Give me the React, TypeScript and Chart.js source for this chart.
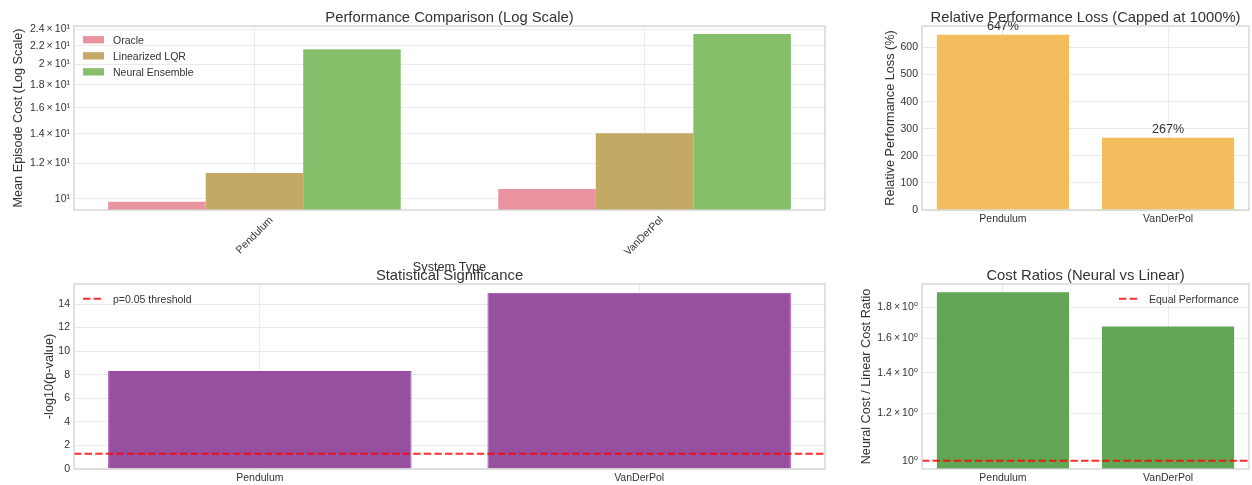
import React, { useEffect, useRef } from "react";
import { Chart, registerables } from "chart.js";

Chart.register(...registerables);

// ---------------- data ----------------
const systems = ["Pendulum", "VanDerPol"];
const oracleCost = [9.86, 10.53];
const lqrCost = [11.43, 14.03];
const neuralCost = [21.63, 23.39];
const costTicks = [10, 12, 14, 16, 18, 20, 22, 24];
const costTickLabels = ["10¹", "1.2\u2009×\u200910¹", "1.4\u2009×\u200910¹", "1.6\u2009×\u200910¹", "1.8\u2009×\u200910¹", "2\u2009×\u200910¹", "2.2\u2009×\u200910¹", "2.4\u2009×\u200910¹"];

const perfLossPct = [647, 267];
const lossTicks = [0, 100, 200, 300, 400, 500, 600];

const negLog10P = [8.31, 14.95];
const pThreshold = 1.301;
const sigTicks = [0, 2, 4, 6, 8, 10, 12, 14];

const costRatio = [1.906, 1.673];
const equalRatio = 1;
const ratioTicks = [1.0, 1.2, 1.4, 1.6, 1.8];
const ratioTickLabels = ["10⁰", "1.2\u2009×\u200910⁰", "1.4\u2009×\u200910⁰", "1.6\u2009×\u200910⁰", "1.8\u2009×\u200910⁰"];

// ---------------- style / layout ----------------
const W = 1252;
const H = 485;
const FONT = '"Liberation Sans", Arial, "DejaVu Sans", sans-serif';
const TEXT = "#333333";
const GRID = "#ebebeb";
const FRAME = "#d2d2d2";
const RED = "rgba(255,0,0,0.82)";
const DASH = [7.4, 3.2];
const C = {
  oracle: "#e8939f",
  lqr: "#c3a866",
  neural: "#86bf6a",
  orange: "#f3bd5d",
  purple: "#974f9f",
  purpleEdge: "#a443b3",
  green: "#62a555",
};
const TITLE_SIZE = 14.8;
const LABEL_SIZE = 12.7;
const TICK_SIZE = 10.5;

type Area = { L: number; T: number; R: number; B: number };
const A_TL: Area = { L: 74, T: 26, R: 825, B: 210 };
const A_TR: Area = { L: 922, T: 26, R: 1249, B: 210 };
const A_BL: Area = { L: 74, T: 284, R: 825, B: 469 };
const A_BR: Area = { L: 922, T: 284, R: 1249, B: 469 };

// ---------------- helpers ----------------
function text(ctx: CanvasRenderingContext2D, s: string, x: number, y: number, size: number, align: CanvasTextAlign = "center", rot = 0) {
  ctx.save();
  ctx.translate(x, y);
  if (rot) ctx.rotate(rot);
  ctx.font = `${size}px ${FONT}`;
  ctx.fillStyle = TEXT;
  ctx.textAlign = align;
  ctx.textBaseline = "alphabetic";
  ctx.fillText(s, 0, 0);
  ctx.restore();
}

function frame(ctx: CanvasRenderingContext2D, a: Area) {
  ctx.save();
  ctx.strokeStyle = FRAME;
  ctx.lineWidth = 1.3;
  ctx.strokeRect(a.L, a.T, a.R - a.L, a.B - a.T);
  ctx.restore();
}

function legendBox(ctx: CanvasRenderingContext2D, x: number, yc: number, color: string, label: string) {
  ctx.save();
  ctx.fillStyle = color;
  ctx.fillRect(x, yc - 3.6, 21, 7.3);
  ctx.restore();
  text(ctx, label, x + 30, yc + 3.8, TICK_SIZE, "left");
}

function legendDash(ctx: CanvasRenderingContext2D, x: number, yc: number, label: string) {
  ctx.save();
  ctx.strokeStyle = RED;
  ctx.lineWidth = 2;
  ctx.setLineDash(DASH);
  ctx.beginPath();
  ctx.moveTo(x, yc);
  ctx.lineTo(x + 21, yc);
  ctx.stroke();
  ctx.restore();
  text(ctx, label, x + 30, yc + 3.8, TICK_SIZE, "left");
}

function deco(draw: (ctx: CanvasRenderingContext2D, chart: any) => void) {
  return {
    id: "deco",
    afterDraw(chart: any) {
      const ctx = chart.ctx as CanvasRenderingContext2D;
      ctx.save();
      draw(ctx, chart);
      ctx.restore();
    },
  };
}

const tickFont = { family: FONT, size: TICK_SIZE };

function xScale(a: Area, min: number, max: number, extra: any = {}) {
  return {
    type: "linear",
    min,
    max,
    offset: false,
    bounds: "data",
    afterBuildTicks: (s: any) => {
      s.ticks = systems.map((_, i) => ({ value: i }));
    },
    afterFit: (s: any) => {
      s.height = H - a.B;
      s.paddingLeft = 0;
      s.paddingRight = 0;
    },
    ticks: {
      callback: (_v: any, i: number) => systems[i],
      font: tickFont,
      color: TEXT,
      padding: 3,
      autoSkip: false,
      maxRotation: 0,
      minRotation: 0,
      ...extra,
    },
    grid: { color: GRID, drawTicks: false, lineWidth: 1, offset: false },
    border: { display: false },
  };
}

function yScale(a: Area, type: string, min: number, max: number, ticks: number[], labels: (string | number)[]) {
  return {
    type,
    min,
    max,
    bounds: "data",
    afterBuildTicks: (s: any) => {
      s.ticks = ticks.map((v) => ({ value: v }));
    },
    afterFit: (s: any) => {
      s.width = a.L;
      s.paddingTop = 0;
      s.paddingBottom = 0;
    },
    ticks: {
      callback: (_v: any, i: number) => String(labels[i]),
      font: tickFont,
      color: TEXT,
      padding: 4,
      autoSkip: false,
    },
    grid: { color: GRID, drawTicks: false, lineWidth: 1 },
    border: { display: false },
  };
}

function baseOptions(a: Area) {
  return {
    animation: false,
    responsive: false,
    devicePixelRatio: 1,
    events: [],
    layout: { autoPadding: false, padding: { left: 0, top: a.T, right: W - a.R, bottom: 0 } },
    plugins: { legend: { display: false }, title: { display: false }, tooltip: { enabled: false } },
  };
}

const pts = (vals: number[]) => vals.map((v, i) => ({ x: i, y: v }));

// ---------------- chart configs ----------------
function cfgTL(): any {
  return {
    type: "bar",
    data: {
      datasets: [
        { label: "Oracle", data: pts(oracleCost), backgroundColor: C.oracle, borderWidth: 0 },
        { label: "Linearized LQR", data: pts(lqrCost), backgroundColor: C.lqr, borderWidth: 0 },
        { label: "Neural Ensemble", data: pts(neuralCost), backgroundColor: C.neural, borderWidth: 0 },
      ],
    },
    options: {
      ...baseOptions(A_TL),
      datasets: { bar: { categoryPercentage: 0.75, barPercentage: 1 } },
      scales: {
        x: xScale(A_TL, -0.4625, 1.4625, { minRotation: 45, maxRotation: 45, labelOffset: 17, padding: 4 }),
        y: yScale(A_TL, "logarithmic", 9.449, 24.38, costTicks, costTickLabels),
      },
    },
    plugins: [
      deco((ctx) => {
        frame(ctx, A_TL);
        const cx = (A_TL.L + A_TL.R) / 2;
        text(ctx, "Performance Comparison (Log Scale)", cx, 21.5, TITLE_SIZE);
        text(ctx, "Mean Episode Cost (Log Scale)", 21.6, (A_TL.T + A_TL.B) / 2, LABEL_SIZE, "center", -Math.PI / 2);
        text(ctx, "System Type", cx, 271, LABEL_SIZE);
        legendBox(ctx, 83, 39.7, C.oracle, "Oracle");
        legendBox(ctx, 83, 55.8, C.lqr, "Linearized LQR");
        legendBox(ctx, 83, 71.8, C.neural, "Neural Ensemble");
      }),
    ],
  };
}

function cfgTR(): any {
  return {
    type: "bar",
    data: {
      datasets: [{ label: "loss", data: pts(perfLossPct), backgroundColor: C.orange, borderWidth: 0 }],
    },
    options: {
      ...baseOptions(A_TR),
      datasets: { bar: { categoryPercentage: 0.8, barPercentage: 1 } },
      scales: {
        x: xScale(A_TR, -0.49, 1.49),
        y: yScale(A_TR, "linear", 0, 679.35, lossTicks, lossTicks),
      },
    },
    plugins: [
      deco((ctx, chart) => {
        frame(ctx, A_TR);
        const cx = (A_TR.L + A_TR.R) / 2;
        const xs = chart.scales.x;
        const ys = chart.scales.y;
        perfLossPct.forEach((v, i) => {
          text(ctx, `${v}%`, xs.getPixelForValue(i), ys.getPixelForValue(v) - 4.5, 12.5);
        });
        text(ctx, "Relative Performance Loss (Capped at 1000%)", cx, 21.5, TITLE_SIZE);
        text(ctx, "Relative Performance Loss (%)", 893.6, (A_TR.T + A_TR.B) / 2, LABEL_SIZE, "center", -Math.PI / 2);
      }),
    ],
  };
}

function cfgBL(): any {
  return {
    type: "bar",
    data: {
      datasets: [
        {
          label: "sig",
          data: pts(negLog10P),
          backgroundColor: C.purple,
          borderColor: C.purpleEdge,
          borderWidth: 1,
          order: 2,
        },
        {
          type: "line",
          label: "p=0.05 threshold",
          data: [
            { x: -0.49, y: pThreshold },
            { x: 1.49, y: pThreshold },
          ],
          borderColor: RED,
          borderWidth: 2,
          borderDash: DASH,
          pointRadius: 0,
          fill: false,
          order: 1,
        },
      ],
    },
    options: {
      ...baseOptions(A_BL),
      datasets: { bar: { categoryPercentage: 0.8, barPercentage: 1 } },
      scales: {
        x: xScale(A_BL, -0.49, 1.49),
        y: yScale(A_BL, "linear", 0, 15.7, sigTicks, sigTicks),
      },
    },
    plugins: [
      deco((ctx) => {
        frame(ctx, A_BL);
        const cx = (A_BL.L + A_BL.R) / 2;
        text(ctx, "Statistical Significance", cx, 279.5, TITLE_SIZE);
        text(ctx, "-log10(p-value)", 52.6, (A_BL.T + A_BL.B) / 2, LABEL_SIZE, "center", -Math.PI / 2);
        legendDash(ctx, 83, 298.7, "p=0.05 threshold");
      }),
    ],
  };
}

function cfgBR(): any {
  return {
    type: "bar",
    data: {
      datasets: [
        { label: "ratio", data: pts(costRatio), backgroundColor: C.green, borderWidth: 0, order: 2 },
        {
          type: "line",
          label: "Equal Performance",
          data: [
            { x: -0.49, y: equalRatio },
            { x: 1.49, y: equalRatio },
          ],
          borderColor: RED,
          borderWidth: 2,
          borderDash: DASH,
          pointRadius: 0,
          fill: false,
          order: 1,
        },
      ],
    },
    options: {
      ...baseOptions(A_BR),
      datasets: { bar: { categoryPercentage: 0.8, barPercentage: 1 } },
      scales: {
        x: xScale(A_BR, -0.49, 1.49),
        y: yScale(A_BR, "logarithmic", 0.9687, 1.968, ratioTicks, ratioTickLabels),
      },
    },
    plugins: [
      deco((ctx) => {
        frame(ctx, A_BR);
        const cx = (A_BR.L + A_BR.R) / 2;
        text(ctx, "Cost Ratios (Neural vs Linear)", cx, 279.5, TITLE_SIZE);
        text(ctx, "Neural Cost / Linear Cost Ratio", 870, (A_BR.T + A_BR.B) / 2, LABEL_SIZE, "center", -Math.PI / 2);
        legendDash(ctx, 1119, 298.7, "Equal Performance");
      }),
    ],
  };
}

// ---------------- components ----------------
function ChartLayer({ make }: { make: () => any }) {
  const ref = useRef<HTMLCanvasElement | null>(null);
  useEffect(() => {
    if (!ref.current) return;
    const chart = new Chart(ref.current, make());
    return () => chart.destroy();
  }, [make]);
  return (
    <canvas
      ref={ref}
      width={W}
      height={H}
      style={{ position: "absolute", left: 0, top: 0, width: W, height: H, display: "block" }}
    />
  );
}

export default function App() {
  return (
    <div style={{ position: "absolute", left: 0, top: 0, width: W, height: H, background: "#ffffff", overflow: "hidden" }}>
      <ChartLayer make={cfgTL} />
      <ChartLayer make={cfgTR} />
      <ChartLayer make={cfgBL} />
      <ChartLayer make={cfgBR} />
    </div>
  );
}
